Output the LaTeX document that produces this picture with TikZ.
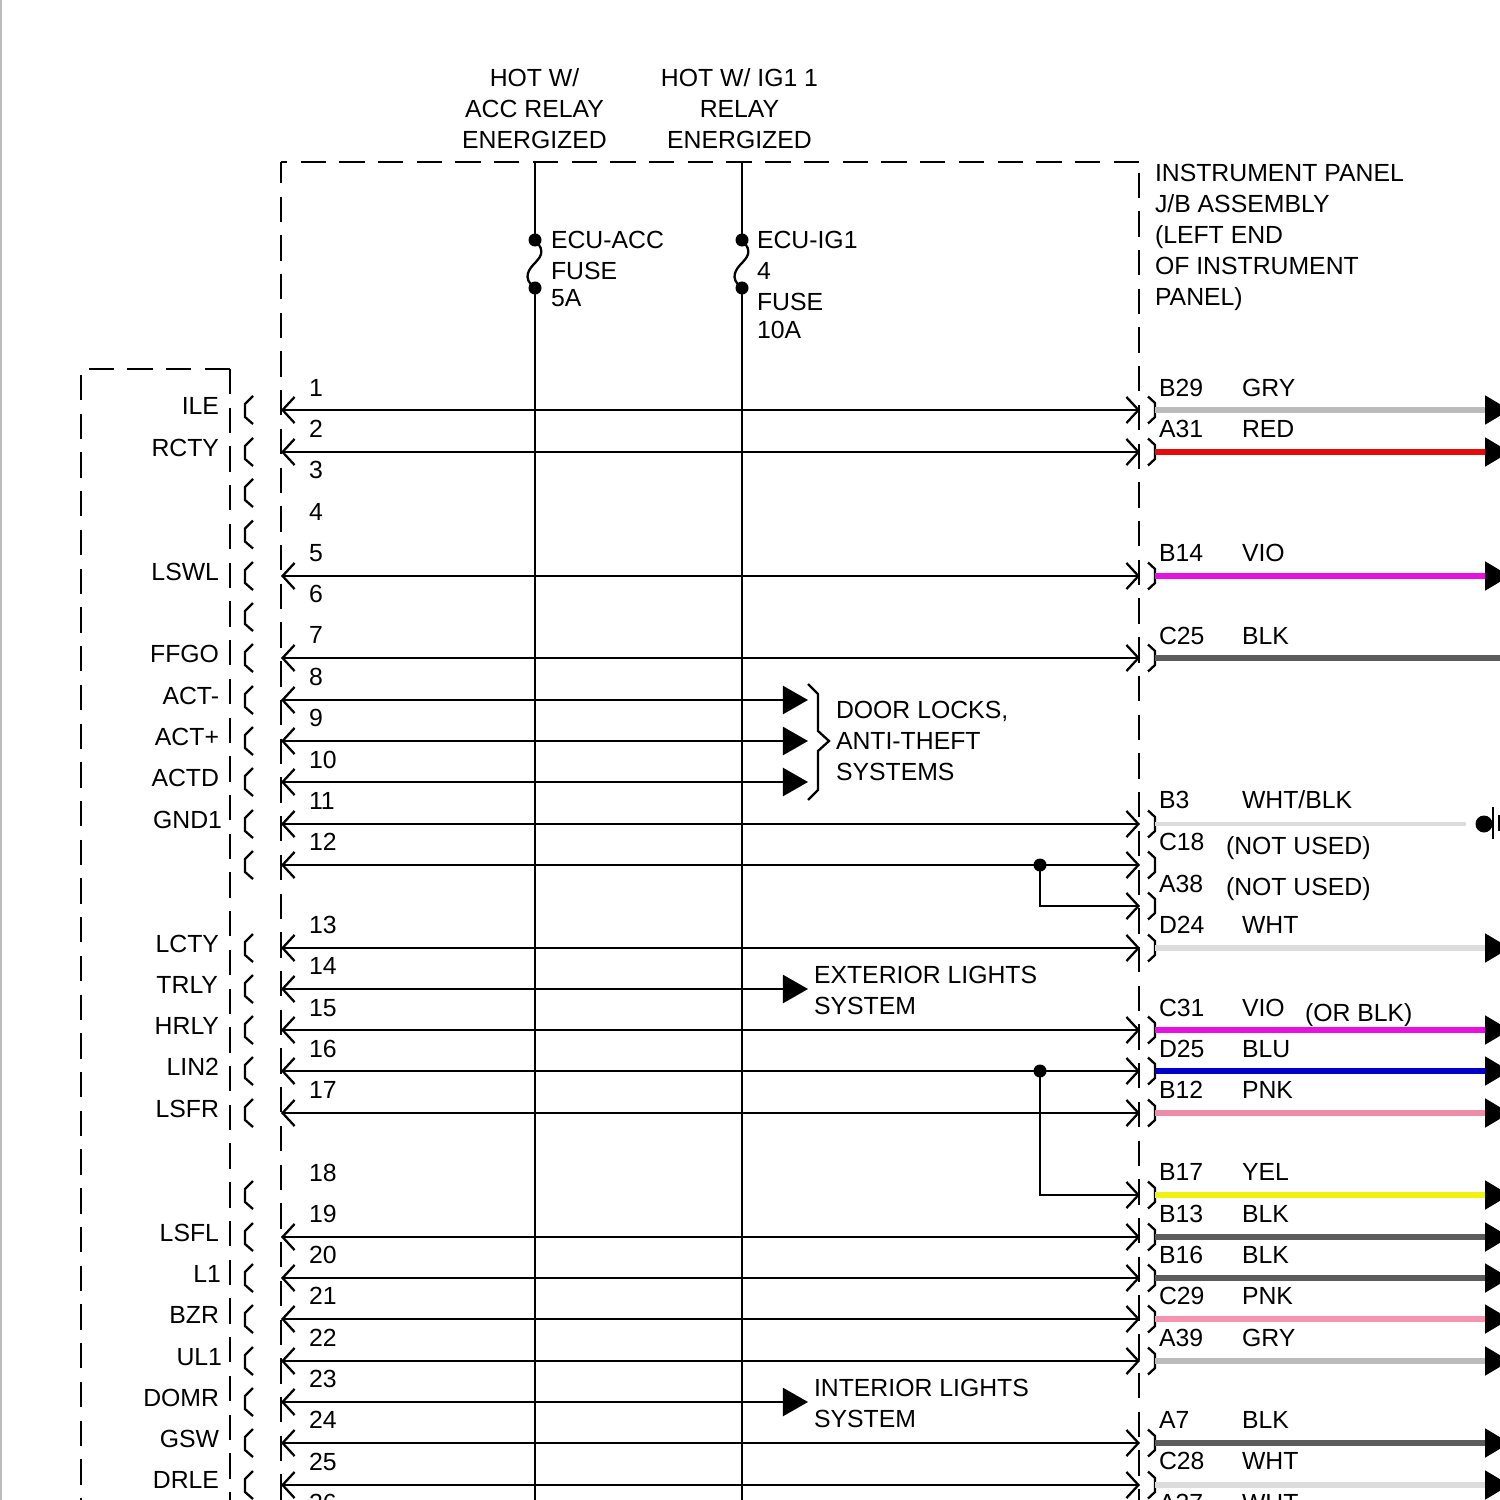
\documentclass[tikz,border=0pt]{standalone}
\usepackage{fontspec}
\setmainfont{Liberation Sans}
\usetikzlibrary{arrows.meta,calc}
\definecolor{cgry}{HTML}{BBBBBB}
\definecolor{cred}{HTML}{E60A0A}
\definecolor{cvio}{HTML}{E610E0}
\definecolor{cblk}{HTML}{5C5C5C}
\definecolor{cwht}{HTML}{DCDCDC}
\definecolor{cblu}{HTML}{0000C8}
\definecolor{cpnk}{HTML}{EE8CA8}
\definecolor{cpnl}{HTML}{F593B0}
\definecolor{cyel}{HTML}{F2F210}
\tikzset{
  txt/.style={font=\fontsize{7.05pt}{8.82pt}\selectfont,inner sep=0pt,outer sep=0pt,text=black},
  lefttxt/.style={txt,anchor=base east},
  basetxt/.style={txt,anchor=base west},
  blocktxt/.style={txt,anchor=west,align=left},
  toptxt/.style={txt,anchor=center,align=center},
  boundary/.style={line width=0.65pt,dash pattern=on 0.253cm off 0.134cm},
  wire/.style={line width=0.65pt},
  conn/.style={line width=0.65pt,line join=miter},
  barbtip/.tip={Straight Barb[length=0.12cm,width=0.26cm]},
  solidtip/.tip={Triangle[length=0.25cm,width=0.28cm,black,fill=black]},
  both/.style={wire,{barbtip}-{barbtip}},
  half/.style={wire,{barbtip}-{solidtip}},
  lead/.style={line width=1.45pt,-{solidtip}},
  dotmark/.style={circle,fill=black,inner sep=0pt,minimum size=0.13cm},
}
\begin{document}
\begin{tikzpicture}[x=0.01cm,y=-0.01cm]
\useasboundingbox (0,0) rectangle (1500,1500);
\clip (0,0) rectangle (1500,1500);
\fill[white] (0,0) rectangle (1500,1500);
\draw[cgry,line width=0.6pt] (1,0) -- (1,1500);

% ---- row coordinates
\foreach \n/\y in {1/410,2/452,3/493,4/534.5,5/576,6/617,7/658,8/700,9/741,10/782,11/824,12/865,
  13/948,14/989,15/1030,16/1071,17/1113,18/1195,19/1237,20/1278,21/1319,22/1361,23/1402,24/1443,25/1485}{
  \coordinate (L\n) at (281,\y);
  \coordinate (R\n) at (1140,\y);
  \coordinate (S\n) at (1155,\y);
  \coordinate (E\n) at (1510,\y);
  \coordinate (T\n) at (808,\y);
  \coordinate (B\n) at (245,\y);
}
\coordinate (R12b) at (1140,906);
\coordinate (S12b) at (1155,906);

% ---- dashed boundaries
\draw[boundary] (230,369) -- (230,1500);
\draw[boundary] (230,369) -- (81,369);
\draw[boundary] (81,375) -- (81,1500);
\draw[boundary,dash phase=0.042cm] (281,162) -- (281,1500);
\draw[boundary,dash phase=0.282cm] (1139,162) -- (1139,1500);
\draw[boundary] (1139,162) -- (281,162);

% ---- supply lines and fuses
\foreach \nm/\x in {a/535,b/742}{
  \node[dotmark] (fuse\nm t) at (\x,240) {};
  \node[dotmark] (fuse\nm b) at (\x,288) {};
  \coordinate (top\nm) at (\x,162);
  \coordinate (bot\nm) at (\x,1500);
  \draw[wire] (top\nm) -- (fuse\nm t.center);
  \draw[wire] (fuse\nm b.center) -- (bot\nm);
  \draw[wire] (fuse\nm t.center) .. controls (\x+12,252) and (\x+4,258) .. (\x,263)
     .. controls (\x-5,268) and (\x-14,278) .. (fuse\nm b.center);
}

% ---- left connector marks
\foreach \n in {1,...,25}{
  \draw[conn] ($(B\n)+(8,-14)$) -- ($(B\n)+(0,-6)$) -- ($(B\n)+(0,7)$) -- ($(B\n)+(8,14)$);
}

% ---- wires
\foreach \n in {1,2,5,7,11,12,13,15,16,17,19,20,21,22,24,25}{
  \draw[both] (L\n) -- (R\n);
}
\foreach \n in {8,9,10,14,23}{
  \draw[half] (L\n) -- (T\n);
}

% ---- junctions
\node[dotmark] (j12) at (1040,865) {};
\node[dotmark] (j16) at (1040,1071) {};
\draw[wire,-{barbtip}] (j12.center) |- (R12b);
\draw[wire,-{barbtip}] (j16.center) |- (R18);

% ---- right connector marks
\foreach \c in {S1,S2,S5,S7,S11,S12,S12b,S13,S15,S16,S17,S18,S19,S20,S21,S22,S24,S25}{
  \draw[conn] ($(\c)+(-7,-13.5)$) -- ($(\c)+(0,-7)$) -- ($(\c)+(0,7)$) -- ($(\c)+(-7,13.5)$);
}

% ---- coloured leads
\foreach \n/\c in {1/cgry,2/cred,5/cvio,13/cwht,15/cvio,16/cblu,17/cpnk,18/cyel,19/cblk,20/cblk,21/cpnl,22/cgry,24/cblk,25/cwht}{
  \draw[lead,\c] (S\n) -- (E\n);
}
\draw[line width=1.45pt,cblk] (S7) -- (E7);

% ---- B3 lead to splice
\node[dotmark,minimum size=0.17cm] (splice) at (1484,824) {};
\coordinate (leadend) at (1466,824);
\draw[line width=1.2pt,cwht] (S11) -- (leadend);
\coordinate (bar1t) at (1493,807);
\coordinate (bar1b) at (1493,839);
\coordinate (bar2t) at (1499,815);
\coordinate (bar2b) at (1499,831);
\draw[line width=0.7pt] (bar1t) -- (bar1b);
\draw[line width=0.7pt] (bar2t) -- (bar2b);

% ---- brace
\coordinate (b1) at (808,684); \coordinate (b2) at (818,694); \coordinate (b3) at (818,731);
\coordinate (b4) at (829,741); \coordinate (b5) at (818,751); \coordinate (b6) at (818,790);
\coordinate (b7) at (808,800);
\draw[conn] (b1) -- (b2) -- (b3) -- (b4) -- (b5) -- (b6) -- (b7);

% ---- pin numbers
\foreach \n/\y in {1/387,2/428,3/469,4/511,5/552,6/593,7/634,8/676,9/717,10/759,11/800,12/841,13/924,
  14/965,15/1007,16/1048,17/1089,18/1172,19/1213,20/1254,21/1295,22/1337,23/1378,24/1419,25/1461,26/1502}{
  \node[basetxt] (num\n) at (309,\y+9) {\n};
}

% ---- left labels
\foreach \t/\x/\y [count=\i] in {ILE/219/406,RCTY/219/448,LSWL/219/572,FFGO/219/654,ACT-/219/696,ACT+/219/737,
  ACTD/219/778,GND1/222/820,LCTY/219/944,TRLY/218/985,HRLY/219/1026,LIN2/219/1067,LSFR/219/1109,
  LSFL/219/1233,L1/221/1274,BZR/219/1315,UL1/222/1357,DOMR/219/1398,GSW/219/1439,DRLE/219/1480}{
  \node[lefttxt] (lab\i) at (\x,\y+8.5) {\t};
}

% ---- right pin and colour labels
\foreach \p/\w/\y in {B29/GRY/387,A31/RED/428,B14/VIO/552,C25/BLK/635,D24/WHT/924,C31/VIO/1007,D25/BLU/1048,
  B12/PNK/1089,B17/YEL/1171,B13/BLK/1213,B16/BLK/1254,C29/PNK/1295,A39/GRY/1337,A7/BLK/1419,C28/WHT/1460,A37/WHT/1502}{
  \node[basetxt] (pin\p) at (1159,\y+9) {\p};
  \node[basetxt] (col\p) at (1242,\y+9) {\w};
}
\node[basetxt] (pinB3) at (1159,808) {B3};
\node[basetxt] (colB3) at (1242,808) {WHT/BLK};
\node[basetxt] (pinC18) at (1159,850) {C18};
\node[basetxt] (pinA38) at (1159,892) {A38};
\node[basetxt] (nu1) at (1226,854) {(NOT USED)};
\node[basetxt] (nu2) at (1226,895) {(NOT USED)};
\node[basetxt] (orblk) at (1305,1021) {(OR BLK)};

% ---- headings and notes
\node[toptxt] (hot1) at (534.5,109) {HOT W/\\ACC RELAY\\ENERGIZED};
\node[toptxt] (hot2) at (739.5,108.5) {HOT W/ IG1 1\\RELAY\\ENERGIZED};
\node[blocktxt] (ipjb) at (1155,237.5) {INSTRUMENT PANEL\\J/B ASSEMBLY\\(LEFT END\\OF INSTRUMENT\\PANEL)};
\node[blocktxt] (fuse1) at (551,269) {ECU-ACC\\FUSE\\[-1.1pt]5A};
\node[blocktxt] (fuse2) at (757,285) {ECU-IG1\\4\\FUSE\\[-0.9pt]10A};
\node[blocktxt] (door) at (836,741) {DOOR LOCKS,\\ANTI-THEFT\\SYSTEMS};
\node[blocktxt] (ext) at (814,990.5) {EXTERIOR LIGHTS\\SYSTEM};
\node[blocktxt] (int) at (814,1403.5) {INTERIOR LIGHTS\\SYSTEM};
\end{tikzpicture}
\end{document}
